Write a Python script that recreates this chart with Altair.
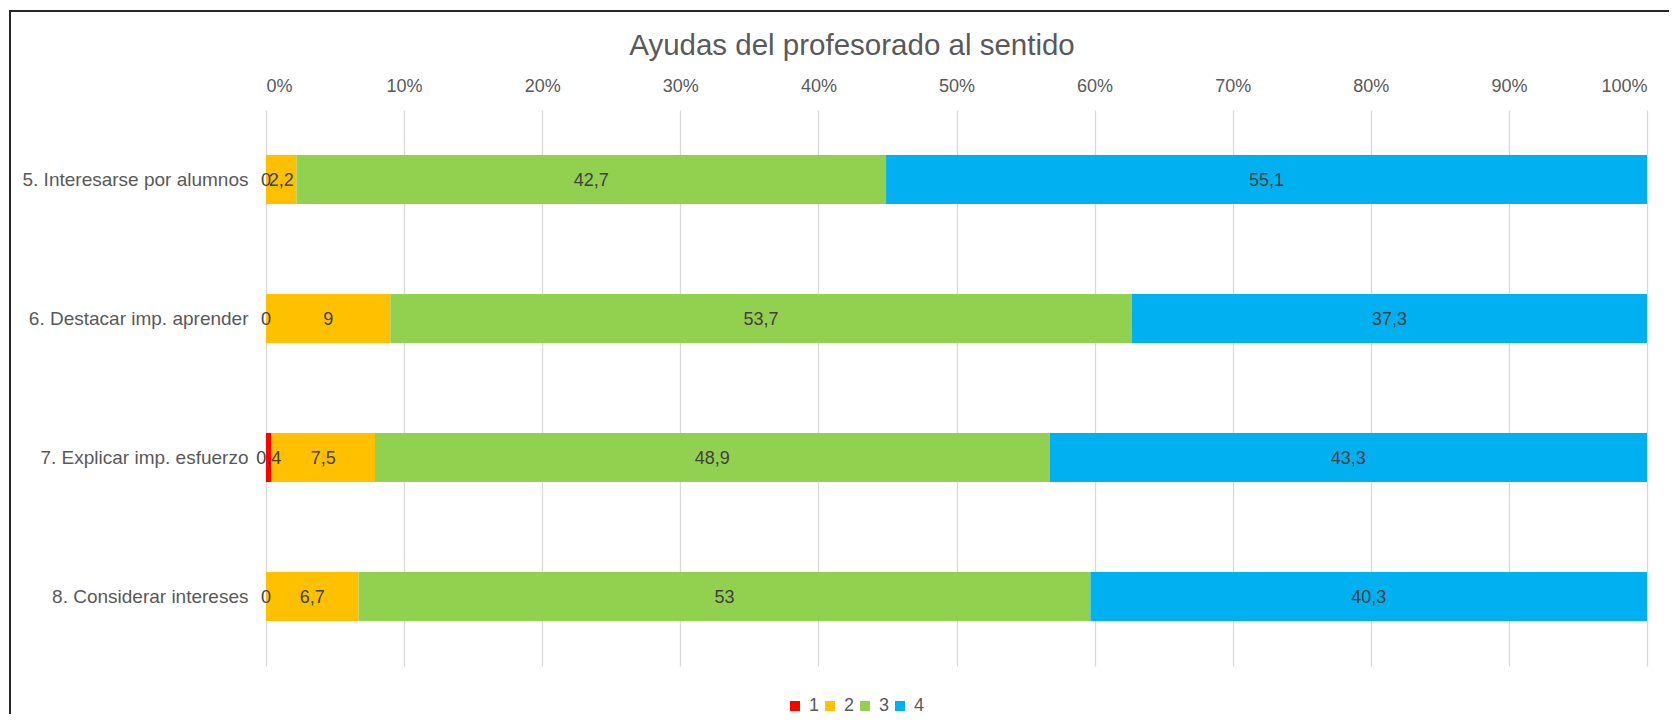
import altair as alt
import pandas as pd

items = ["5. Interesarse por alumnos", "6. Destacar imp. aprender",
         "7. Explicar imp. esfuerzo", "8. Considerar intereses"]
categories = ["1", "2", "3", "4"]
v1 = [0, 0, 0.4, 0]
v2 = [2.2, 9, 7.5, 6.7]
v3 = [42.7, 53.7, 48.9, 53]
v4 = [55.1, 37.3, 43.3, 40.3]
colors = ["#FF0000", "#FFC000", "#92D050", "#00B0F0"]
tick_values = [0, 0.1, 0.2, 0.3, 0.4, 0.5, 0.6, 0.7, 0.8, 0.9, 1.0]

rows = []
for cat, series in zip(categories, [v1, v2, v3, v4]):
    for item, v in zip(items, series):
        rows.append({"item": item, "cat": cat, "v": v,
                     "label": f"{v:g}".replace(".", ",")})
df = pd.DataFrame(rows)

FONT = "Liberation Sans"

base = alt.Chart(df).transform_joinaggregate(
    total="sum(v)", groupby=["item"]
).transform_calculate(
    pct="datum.v / datum.total"
).transform_stack(
    stack="pct", as_=["start", "end"], groupby=["item"],
    sort=[alt.SortField("cat", order="ascending")]
).transform_calculate(
    mid="(datum.start + datum.end) / 2"
)

yenc = alt.Y("item:N", sort=items, title=None,
             scale=alt.Scale(paddingInner=0.647, paddingOuter=0.3235),
             axis=alt.Axis(labelFont=FONT, labelFontSize=19, labelColor="#595959",
                           labelPadding=18, labelLimit=500, domain=False,
                           ticks=False, tickSize=0, grid=False))

bars = base.mark_bar().encode(
    x=alt.X("start:Q", scale=alt.Scale(domain=[0, 1], nice=False, zero=True),
            title=None,
            axis=alt.Axis(orient="top", format=".0%", values=tick_values,
                          labelFont=FONT, labelFontSize=18, labelColor="#595959",
                          labelPadding=15, domain=False, ticks=False, tickSize=0,
                          grid=True, gridColor="#D9D9D9", gridWidth=1.3)),
    x2="end:Q",
    y=yenc,
    color=alt.Color("cat:N", scale=alt.Scale(domain=categories, range=colors),
                    legend=alt.Legend(orient="none", direction="horizontal",
                                      legendX=520, legendY=587, title=None,
                                      symbolType="square", symbolSize=100,
                                      symbolStrokeWidth=0, labelFont=FONT,
                                      labelFontSize=18, labelColor="#595959",
                                      labelOffset=5, columnPadding=1)),
)

texts = base.mark_text(font=FONT, fontSize=18, color="#404040",
                       align="center", baseline="middle", dy=1).encode(
    x=alt.X("mid:Q"),
    y=alt.Y("item:N", sort=items),
    text="label:N",
)

border = alt.Chart(pd.DataFrame({"a": [0]})).mark_rect(
    fill=None, stroke="#262626", strokeWidth=2
).encode(
    x=alt.value(-256), y=alt.value(-99), x2=alt.value(1420), y2=alt.value(620)
)

chart = alt.layer(bars, texts, border).properties(
    width=1381, height=556,
    background="white",
    autosize=alt.AutoSizeParams(type="none"),
    padding={"left": 258, "top": 102, "right": 22, "bottom": 48},
    title=alt.TitleParams("Ayudas del profesorado al sentido", font=FONT,
                          fontSize=29.5, fontWeight="normal", color="#595959",
                          anchor="middle", frame="group", dx=-104.5,
                          baseline="alphabetic", offset=0, dy=74),
).configure_view(strokeWidth=0, strokeOpacity=0)

chart.save("out.html", embed_options={"renderer": "svg", "actions": False})
